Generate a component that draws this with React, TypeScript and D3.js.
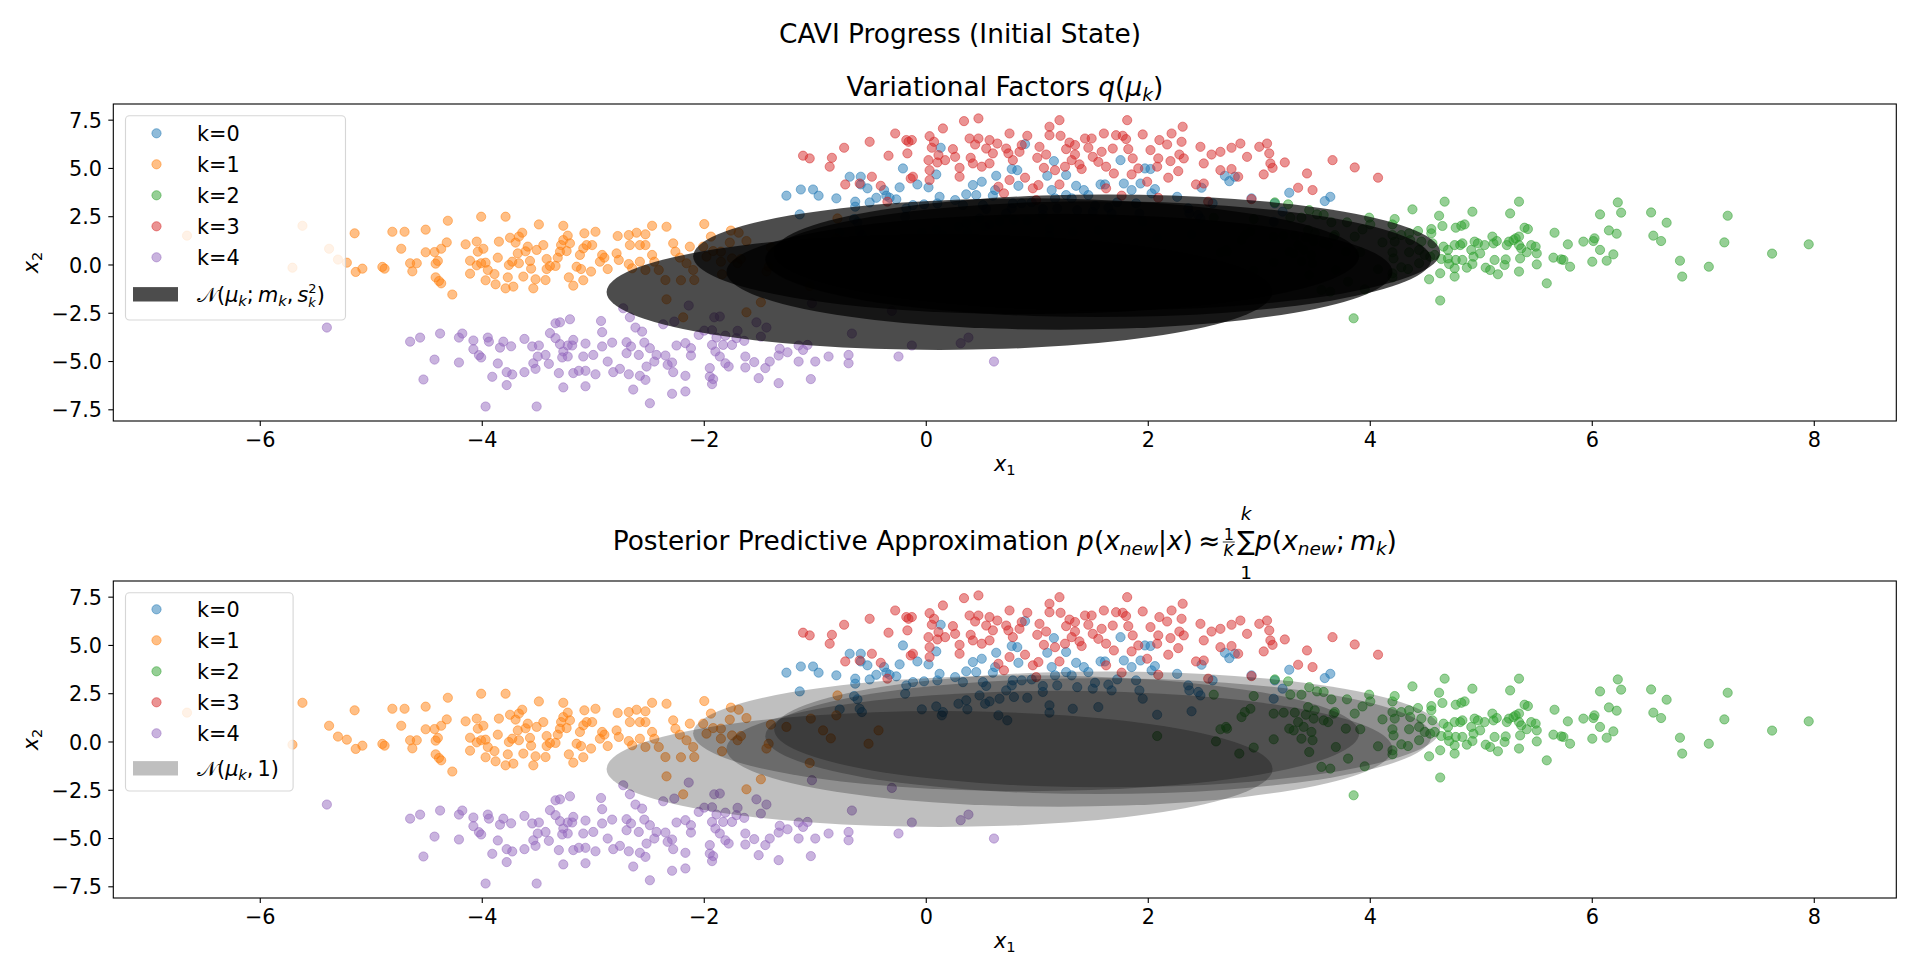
import React, { useLayoutEffect, useRef, useState } from "react";
import * as d3 from "d3";

// ---------------- data ----------------
const clusterLabels = ["k=0", "k=1", "k=2", "k=3", "k=4"];
const clusterColors = ["#1f77b4", "#ff7f0e", "#2ca02c", "#d62728", "#9467bd"];

const k0Points: [number, number][] = [
  [-1.26, 3.59], [-1.14, 2.62], [-1.13, 3.91], [-1.02, 3.91], [-0.97, 3.59], [-0.81, 3.45], [-0.69, 4.57], [-0.64, 3.28],
  [-0.64, 3.02], [-0.65, 2.38], [-0.62, 2.21], [-0.6, 1.72], [-0.58, 1.55], [-0.78, 1.69], [-0.59, 4.57], [-0.59, 4.17],
  [-0.53, 3.97], [-0.51, 3.24], [-0.45, 3.48], [-0.38, 3.88], [-0.36, 3.59], [-0.33, 3.48], [-0.27, 3.4], [-0.24, 4.02],
  [-0.21, 5.0], [-0.19, 2.5], [-0.18, 2.93], [-0.12, 3.1], [-0.08, 4.17], [-0.04, 1.69], [-0.02, 3.14], [0.02, 4.02],
  [0.09, 4.69], [0.09, 1.84], [0.1, 3.19], [0.12, 3.53], [0.14, 1.38], [0.15, 1.55], [0.13, 6.07],
  [0.29, 1.98], [0.36, 2.16], [0.37, 1.69], [0.36, 3.66], [0.33, 3.1], [0.26, 3.36], [0.42, 4.14], [0.45, 3.62],
  [0.5, 4.31], [0.51, 3.1], [0.54, 2.9], [0.48, 2.41], [0.53, 1.98], [0.57, 2.1], [0.6, 3.59], [0.62, 3.88],
  [0.63, 4.62], [0.66, 2.24], [0.65, 1.38], [0.73, 1.12], [0.72, 2.67], [0.77, 2.93], [0.78, 3.19], [0.79, 2.33],
  [0.77, 4.97], [0.82, 4.91], [0.83, 4.1], [0.86, 3.19], [0.89, 6.26], [0.91, 2.29], [0.95, 3.24], [1.05, 2.9],
  [1.05, 2.59], [1.09, 4.62], [1.11, 1.9], [1.11, 1.52], [1.13, 3.88], [1.16, 3.45], [1.15, 5.38], [1.18, 2.93],
  [1.26, 3.62], [1.26, 4.66], [1.31, 3.45], [1.32, 1.72], [1.35, 4.1], [1.36, 2.84], [1.42, 3.88], [1.46, 3.62],
  [1.5, 2.76], [1.52, 3.07], [1.55, 1.81], [1.57, 4.17], [1.61, 4.17], [1.64, 2.97], [1.67, 2.67], [1.72, 3.24],
  [1.75, 5.43], [1.78, 4.22], [1.85, 3.88], [1.89, 3.19], [1.92, 2.67], [1.93, 4.22], [1.95, 2.24], [1.97, 5.0],
  [2.02, 4.97], [2.03, 3.71], [2.06, 3.93], [2.08, 1.41], [2.26, 3.53], [2.36, 2.93], [2.37, 2.67], [2.39, 1.59],
  [2.45, 2.59], [2.47, 2.41], [2.48, 4.0], [2.58, 3.19], [2.69, 4.62], [2.73, 4.34], [2.78, 4.57], [2.93, 3.45],
  [3.13, 2.24], [3.14, 3.19], [3.21, 2.76], [3.27, 3.74], [3.59, 3.31], [3.64, 3.53],
];

const k1Points: [number, number][] = [
  [-6.66, 1.52], [-5.62, 2.03], [-5.71, -0.14], [-5.38, 0.84], [-5.3, 0.28], [-5.22, 0.12], [-5.15, 1.64], [-5.14, -0.36],
  [-5.08, -0.19], [-4.9, -0.1], [-4.88, -0.19], [-4.81, 1.72], [-4.7, 1.72], [-4.73, 0.84], [-4.65, 0.09], [-4.59, 0.09],
  [-4.63, -0.33], [-4.51, 1.83], [-4.51, 0.66], [-4.43, 0.67], [-4.37, 0.84], [-4.32, 1.17], [-4.31, 2.29], [-4.4, 0.21],
  [-4.42, 0.07], [-4.42, -0.64], [-4.39, -0.83], [-4.37, -0.95], [-4.27, -1.53], [-4.15, 1.07], [-4.11, 0.22], [-4.11, -0.45],
  [-4.05, 1.21], [-4.04, 0.69], [-3.99, 0.84], [-4.01, 2.5], [-4.05, -0.02], [-4.01, 0.09], [-3.97, 0.12], [-3.95, -0.26],
  [-3.97, -0.79], [-3.89, -0.47], [-3.88, -1.0], [-3.86, 0.38], [-3.85, 1.21], [-3.79, 2.5], [-3.77, -0.64], [-3.79, -1.21],
  [-3.72, -1.12], [-3.76, 0.0], [-3.75, 1.41], [-3.7, 1.16], [-3.68, 0.6], [-3.67, 1.47], [-3.64, 1.67], [-3.63, -0.6],
  [-3.57, 0.21], [-3.56, -0.19], [-3.54, -1.21], [-3.52, -0.74], [-3.49, 2.1], [-3.59, 0.95], [-3.61, 0.71], [-3.51, 0.78],
  [-3.67, 0.09], [-3.73, 0.17],
  [-3.45, 1.03], [-3.42, 0.31], [-3.42, -0.21], [-3.39, -0.05], [-3.34, -0.05], [-3.43, -0.78], [-3.27, 2.03], [-3.27, 1.29],
  [-3.29, 1.03], [-3.23, 1.52], [-3.21, 1.12], [-3.3, 0.69], [-3.32, 0.38], [-3.24, 0.72], [-3.22, -0.64], [-3.18, -1.07],
  [-3.15, -0.09], [-3.11, -0.21], [-3.12, 0.52], [-3.08, 1.64], [-3.09, 0.86], [-3.06, 1.03], [-3.01, 1.03], [-2.98, 1.72],
  [-3.09, -0.79], [-3.02, -0.34], [-2.94, 0.17], [-2.92, 0.52], [-2.87, -0.21], [-2.9, 0.38], [-2.79, 0.6], [-2.78, 1.5],
  [-2.77, 0.26], [-2.68, 1.55], [-2.61, 1.67], [-2.67, 1.03], [-2.58, 1.03], [-2.53, 1.59], [-2.47, 2.03], [-2.53, 1.03],
  [-2.68, 0.05], [-2.65, -0.17], [-2.58, 0.17], [-2.53, -0.26], [-2.47, 0.52], [-2.45, 0.17], [-2.41, -0.26], [-2.34, 1.98],
  [-2.28, 1.12], [-2.26, 0.69], [-2.22, 0.38], [-2.16, 0.09], [-2.13, 0.95], [-2.1, -0.26], [-2.09, -0.78], [-2.35, -0.78],
  [-2.21, -0.79], [-2.34, -1.78], [-2.19, -2.71], [-2.0, 2.12], [-1.94, 1.47], [-2.01, 0.95], [-1.98, 0.43], [-1.92, 0.72],
  [-1.85, 0.69], [-1.85, 0.17], [-1.84, -0.48], [-1.76, 1.78], [-1.69, 1.67], [-1.77, 1.16], [-1.62, 1.24], [-1.75, 0.34],
  [-1.7, 0.09], [-1.67, 0.31], [-1.62, -2.45], [-1.49, -1.93], [-1.44, -0.34], [-1.42, -0.09], [-1.4, 0.9], [-1.26, 0.78],
  [-1.05, -1.09], [-1.04, 1.21], [-0.93, 0.6], [-0.86, 0.19], [-0.81, 1.38], [-0.8, 2.41], [-0.52, -0.09], [-0.43, 0.6],
];

const k2Points: [number, number][] = [
  [2.08, 0.31], [2.59, 2.45], [2.61, 0.03], [2.65, 0.66], [2.7, 0.78], [2.71, 0.69], [2.82, -0.6], [2.84, 1.29],
  [2.87, 1.55], [2.92, 1.72], [2.95, 2.38], [2.95, -0.29], [3.13, 1.47], [3.13, 0.14], [3.14, 3.24], [3.22, 1.52],
  [3.26, 3.14], [3.28, 2.45], [3.27, 0.69], [3.31, 0.6], [3.32, 1.52], [3.35, 1.03], [3.38, 2.45], [3.4, 0.78],
  [3.38, 0.17], [3.42, 1.41], [3.45, 2.84], [3.44, 1.81], [3.45, -0.52], [3.47, 0.52], [3.48, 0.09], [3.49, 1.21],
  [3.5, 1.64], [3.52, 2.62], [3.56, -1.29], [3.58, 2.59], [3.58, 1.12], [3.62, 1.03], [3.64, -1.38], [3.65, 2.21],
  [3.67, 1.47], [3.69, -0.26], [3.68, 1.55], [3.78, 0.69], [3.79, 2.21], [3.8, -0.86], [3.85, -2.76], [3.86, 1.47],
  [3.99, 2.45], [4.0, 2.1], [3.93, 1.84], [3.91, 0.66], [3.95, -1.26], [4.11, 1.17], [4.07, -0.22], [4.2, 2.1],
  [4.22, 2.38], [4.2, 1.55], [4.22, 1.21], [4.2, 0.66], [4.21, 0.34], [4.2, -0.43], [4.2, -0.64], [4.28, 1.55],
  [4.28, -0.12], [4.34, -0.21], [4.35, 0.66], [4.35, 1.64], [4.36, 1.29], [4.38, 2.88], [4.43, 1.76], [4.44, 0.78],
  [4.44, 0.09], [4.46, 1.21], [4.49, 0.52], [4.53, -0.74], [4.55, 1.86], [4.55, 1.64], [4.56, 1.12], [4.54, 0.43],
  [4.58, 0.52], [4.62, 2.55], [4.63, -0.43], [4.63, -1.84], [4.64, 0.31], [4.65, 2.02], [4.67, 3.28], [4.66, 0.95],
  [4.7, 0.78], [4.71, 0.05], [4.7, 0.34], [4.76, -0.6], [4.77, 1.93], [4.77, 0.26], [4.76, -0.17], [4.76, 1.03],
  [4.81, 1.03], [4.83, 1.12], [4.82, 2.03], [4.85, 2.1], [4.83, 0.26], [4.87, -0.14], [4.91, 0.78], [4.92, 0.05],
  [4.92, 2.76], [4.93, 0.43], [4.94, 1.21], [4.97, 1.12], [4.99, 0.6], [5.03, 1.03], [5.04, -0.14], [5.08, -0.26],
  [5.1, 1.47], [5.11, 1.12], [5.12, 0.26], [5.14, 1.24], [5.15, -0.48], [5.21, 0.0], [5.22, 0.29], [5.23, 1.03],
  [5.26, 2.67], [5.25, 1.21], [5.29, 1.29], [5.31, 1.38], [5.34, 3.28], [5.34, 1.47], [5.34, 1.03], [5.35, 0.34],
  [5.34, -0.34], [5.36, 0.86], [5.39, 1.93], [5.42, 1.86], [5.41, 0.66], [5.45, 1.03], [5.49, 0.95], [5.5, 0.6],
  [5.5, 0.03], [5.59, -0.95], [5.65, 0.38], [5.66, 1.67], [5.72, 0.29], [5.74, 0.26], [5.78, 1.07], [5.8, -0.09],
  [5.92, 1.21], [6.0, 0.17], [6.01, 1.24], [6.02, 1.38], [6.07, 2.62], [6.07, 0.78], [6.13, 0.22], [6.15, 1.79],
  [6.19, 0.55], [6.22, 1.62], [6.23, 3.24], [6.26, 2.71], [6.53, 2.72], [6.55, 1.52], [6.62, 1.24], [6.67, 2.19],
  [6.79, 0.22], [6.81, -0.6], [7.05, -0.09], [7.19, 1.17], [7.22, 2.55], [7.62, 0.59], [7.95, 1.07],
];

const k3Points: [number, number][] = [
  [-1.11, 5.66], [-1.05, 5.52], [-0.87, 5.09], [-0.85, 5.55], [-0.74, 6.07], [-0.73, 4.17], [-0.6, 4.22], [-0.51, 6.38],
  [-0.49, 4.57], [-0.41, 4.1], [-0.35, 3.28], [-0.34, 5.66], [-0.28, 6.81], [-0.18, 6.47], [-0.17, 5.78], [-0.14, 4.48],
  [-0.16, 6.38], [-0.13, 6.47], [-0.12, 4.57], [0.02, 5.43], [0.03, 4.91], [0.03, 4.4], [0.03, 6.67], [0.07, 6.38],
  [0.1, 5.31], [0.11, 5.69], [0.15, 7.07], [0.17, 5.43], [0.05, 6.07],
  [0.34, 7.45], [0.47, 7.59], [0.24, 6.0], [0.26, 5.6], [0.3, 5.03], [0.3, 4.57], [0.4, 5.55], [0.39, 6.55],
  [0.47, 6.55], [0.42, 5.26], [0.44, 6.24], [0.5, 5.09], [0.54, 6.03], [0.57, 6.47], [0.57, 5.26], [0.6, 5.78],
  [0.64, 6.29], [0.65, 4.05], [0.7, 3.71], [0.72, 6.03], [0.74, 5.78], [0.75, 6.81], [0.78, 5.43], [0.75, 4.4],
  [0.84, 5.86], [0.86, 6.21], [0.89, 4.52], [0.91, 6.69], [0.96, 3.97], [0.99, 3.36], [1.01, 4.14], [1.0, 5.55],
  [1.02, 6.12], [1.08, 5.72], [1.06, 5.03], [1.11, 7.16], [1.11, 6.72], [1.16, 4.91], [1.2, 7.5], [1.21, 6.69],
  [1.2, 4.17], [1.25, 5.09], [1.26, 6.0], [1.29, 6.34], [1.31, 5.43], [1.34, 5.72], [1.34, 6.21], [1.38, 5.21],
  [1.4, 4.97], [1.43, 6.55], [1.46, 6.07], [1.49, 6.55], [1.5, 5.6], [1.55, 5.34], [1.58, 5.86], [1.6, 6.81],
  [1.62, 3.97], [1.62, 5.09], [1.68, 6.03], [1.71, 6.72], [1.69, 4.74], [1.76, 3.59], [1.77, 6.69], [1.8, 6.52],
  [1.81, 7.5], [1.82, 6.0], [1.85, 4.69], [1.86, 5.52], [1.91, 5.0], [1.95, 6.76], [1.99, 4.31], [2.02, 5.95],
  [2.09, 5.52], [2.08, 5.09], [2.09, 3.48], [2.1, 6.47], [2.17, 6.24], [2.18, 4.52], [2.2, 5.38], [2.21, 6.81],
  [2.27, 4.86], [2.28, 5.72], [2.3, 6.38], [2.31, 7.16], [2.32, 5.52], [2.43, 4.17], [2.47, 6.12], [2.5, 5.26],
  [2.5, 4.22], [2.54, 3.28], [2.57, 5.72], [2.65, 5.86], [2.65, 4.91], [2.75, 6.07], [2.75, 4.97], [2.81, 4.57],
  [2.83, 6.29], [2.89, 5.6], [2.93, 3.41], [3.0, 6.12], [3.04, 4.69], [3.07, 6.29], [3.09, 5.78], [3.1, 5.26],
  [3.12, 5.03], [3.23, 5.31], [3.35, 4.0], [3.43, 4.74], [3.48, 3.88], [3.66, 5.43], [3.86, 5.05], [4.07, 4.52],
];

const k4Points: [number, number][] = [
  [-5.4, -3.24], [-4.65, -3.97], [-4.56, -3.76], [-4.38, -3.55], [-4.43, -4.9], [-4.53, -5.93], [-4.21, -3.76], [-4.18, -3.55],
  [-4.21, -5.05], [-4.08, -3.91], [-4.08, -4.36], [-4.03, -4.67], [-4.01, -4.79], [-3.95, -3.76], [-3.94, -3.97], [-3.86, -5.1],
  [-3.91, -5.79], [-3.78, -5.55], [-3.73, -5.67], [-3.78, -6.22], [-3.97, -7.33], [-3.84, -4.28], [-3.81, -3.97], [-3.74, -4.21],
  [-3.62, -3.83], [-3.62, -5.55], [-3.55, -4.22], [-3.54, -5.09], [-3.52, -5.38], [-3.5, -4.74], [-3.49, -4.17], [-3.51, -7.33],
  [-3.4, -5.12], [-3.43, -4.66], [-3.39, -3.53], [-3.34, -3.02], [-3.3, -2.97], [-3.21, -2.81], [-3.34, -3.79], [-3.3, -4.1],
  [-3.27, -4.48], [-3.28, -4.79], [-3.31, -5.6], [-3.27, -6.34], [-3.23, -4.17], [-3.23, -4.74], [-3.18, -3.88], [-3.19, -4.17],
  [-3.18, -5.6], [-3.13, -5.48], [-3.09, -4.74], [-3.07, -4.07], [-3.07, -5.48], [-3.07, -6.28], [-3.0, -4.66], [-2.98, -5.66],
  [-2.93, -2.9], [-2.92, -3.48], [-2.92, -4.22], [-2.87, -5.0], [-2.83, -4.02], [-2.82, -5.55], [-2.76, -5.38], [-2.73, -2.24],
  [-2.67, -2.71], [-2.7, -4.0], [-2.7, -4.57], [-2.66, -4.22], [-2.68, -5.66], [-2.64, -6.45], [-2.62, -3.24], [-2.59, -4.66],
  [-2.58, -5.74], [-2.56, -3.45], [-2.54, -4.02], [-2.53, -5.95], [-2.52, -5.26], [-2.49, -4.31], [-2.45, -5.0], [-2.43, -4.66],
  [-2.49, -7.16], [-2.37, -3.07], [-2.35, -4.69], [-2.33, -5.17], [-2.29, -5.05], [-2.28, -5.55], [-2.29, -6.67], [-2.27, -2.93],
  [-2.25, -4.17], [-2.17, -4.05], [-2.17, -5.74], [-2.17, -6.55], [-2.14, -2.1], [-2.12, -4.31], [-2.12, -4.69], [-2.05, -3.62],
  [-2.0, -3.4], [-1.95, -5.34], [-1.95, -5.78], [-1.93, -6.17], [-1.92, -5.91], [-1.91, -2.71], [-1.86, -2.67], [-1.93, -3.38],
  [-1.89, -3.76], [-1.93, -4.14], [-1.9, -4.48], [-1.86, -4.74], [-1.83, -4.14], [-1.81, -3.66], [-1.81, -5.09], [-1.78, -5.26],
  [-1.75, -4.14], [-1.71, -3.79], [-1.7, -3.41], [-1.64, -3.93], [-1.63, -4.74], [-1.63, -5.31], [-1.55, -5.03], [-1.51, -5.86],
  [-1.53, -2.97], [-1.49, -3.71], [-1.44, -3.24], [-1.41, -5.0], [-1.45, -5.34], [-1.33, -4.69], [-1.32, -4.34], [-1.33, -6.12],
  [-1.25, -4.52], [-1.15, -4.17], [-1.15, -5.0], [-1.11, -4.4], [-1.07, -4.14], [-1.04, -5.91], [-1.03, -1.98], [-1.0, -5.0],
  [-0.88, -4.74], [-0.7, -4.66], [-0.7, -5.09], [-0.67, -3.55], [-0.31, -2.38], [-0.25, -4.74], [-0.13, -4.17],
  [0.31, -4.05], [0.38, -3.76], [0.61, -5.0],
];

const clusters = [k0Points, k1Points, k2Points, k3Points, k4Points];

// variational means m_k and std devs s_k (initial state)
const meanX = [0.12, 0.9, 1.2, 1.55, 1.63];
const meanY = [-1.4, 0.45, -0.35, 0.3, 0.65];
const stdDev = [1, 1, 1, 1, 1];
const nSigma = 3;

const xTicks = [-6, -4, -2, 0, 2, 4, 6, 8];
const yTicks = [-7.5, -5, -2.5, 0, 2.5, 5, 7.5];
const xLimits: [number, number] = [-7.324, 8.739];
const yLimits: [number, number] = [-8.08, 8.337];

// ---------------- layout ----------------
const W = 1920;
const H = 977;
const FONT = "'DejaVu Sans', 'Noto Sans', sans-serif";
const AX_L = 113.3;
const AX_R = 1896.3;
const AX_H = 317;
const TICK_FS = 20.8;
const SUB_FS = 14.6;
const TITLE_FS = 26.4;
const MARKER_R = 4.6;

type PanelProps = {
  idx: number;
  top: number;
  alpha: number;
  legendWidth: number;
  legendHeight: number;
  firstRow: number;
  patchRow: number;
  patchLabel: React.ReactNode;
};

function Panel({ idx, top, alpha, legendWidth, legendHeight, firstRow, patchRow, patchLabel }: PanelProps) {
  const x = d3.scaleLinear().domain(xLimits).range([AX_L, AX_R]);
  const y = d3.scaleLinear().domain(yLimits).range([top + AX_H, top]);
  const fmtY = d3.format(".1f");
  const fmtX = d3.format("d");
  const clipId = `axclip${idx}`;
  const bottom = top + AX_H;
  const legX = 125.5;
  const legY = top + 11.7;
  return (
    <g>
      <defs>
        <clipPath id={clipId}>
          <rect x={AX_L} y={top} width={AX_R - AX_L} height={AX_H} />
        </clipPath>
      </defs>
      <g clipPath={`url(#${clipId})`}>
        {clusters.map((pts, k) => (
          <g key={k} fill={clusterColors[k]} fillOpacity={0.5} stroke={clusterColors[k]} strokeOpacity={0.5} strokeWidth={1}>
            {pts.map(([px, py], i) => (
              <circle key={i} cx={x(px)} cy={y(py)} r={MARKER_R} />
            ))}
          </g>
        ))}
        {meanX.map((mx, k) => {
          const my = meanY[k];
          const r = nSigma * stdDev[k];
          return (
            <ellipse
              key={k}
              cx={x(mx)}
              cy={y(my)}
              rx={x(mx + r) - x(mx)}
              ry={y(my) - y(my + r)}
              fill="#000"
              fillOpacity={alpha}
            />
          );
        })}
      </g>
      {/* spines */}
      <rect x={AX_L} y={top} width={AX_R - AX_L} height={AX_H} fill="none" stroke="#000" strokeWidth={1.1} />
      {/* x ticks */}
      {xTicks.map((t) => (
        <g key={`x${t}`}>
          <line x1={x(t)} x2={x(t)} y1={bottom} y2={bottom + 5} stroke="#000" strokeWidth={1.1} />
          <text x={x(t)} y={bottom + 25.7} textAnchor="middle" fontSize={TICK_FS} fontFamily={FONT}>
            {fmtX(t)}
          </text>
        </g>
      ))}
      {/* y ticks */}
      {yTicks.map((t) => (
        <g key={`y${t}`}>
          <line x1={AX_L - 5} x2={AX_L} y1={y(t)} y2={y(t)} stroke="#000" strokeWidth={1.1} />
          <text x={102} y={y(t) + 7.6} textAnchor="end" fontSize={TICK_FS} fontFamily={FONT}>
            {fmtY(t)}
          </text>
        </g>
      ))}
      {/* axis labels */}
      <text x={(AX_L + AX_R) / 2} y={bottom + 49.5} textAnchor="middle" fontSize={TICK_FS} fontFamily={FONT}>
        <tspan fontStyle="italic">x</tspan>
        <tspan fontSize={SUB_FS} dy={4}>1</tspan>
      </text>
      <text
        transform={`translate(37.5, ${top + AX_H / 2}) rotate(-90)`}
        textAnchor="middle"
        fontSize={TICK_FS}
        fontFamily={FONT}
      >
        <tspan fontStyle="italic">x</tspan>
        <tspan fontSize={SUB_FS} dy={4}>2</tspan>
      </text>
      {/* legend */}
      <rect
        x={legX}
        y={legY}
        width={legendWidth}
        height={legendHeight}
        rx={4}
        fill="#fff"
        fillOpacity={0.8}
        stroke="#cccccc"
        strokeOpacity={0.8}
        strokeWidth={1.1}
      />
      {clusterLabels.map((lab, k) => {
        const cy = top + firstRow + k * 31;
        return (
          <g key={lab}>
            <circle cx={156.5} cy={cy} r={MARKER_R} fill={clusterColors[k]} fillOpacity={0.5} stroke={clusterColors[k]} strokeOpacity={0.5} strokeWidth={1} />
            <text x={197} y={cy + 7.5} fontSize={TICK_FS} fontFamily={FONT}>
              {lab}
            </text>
          </g>
        );
      })}
      <rect x={133} y={top + patchRow - 7.2} width={45} height={14.4} fill="#000" fillOpacity={alpha} />
      <text x={197} y={top + patchRow + 7.4} fontSize={TICK_FS} fontFamily={FONT}>
        {patchLabel}
      </text>
    </g>
  );
}

const CAL_FONT = "'DejaVu Sans', 'DejaVu Serif', 'Noto Sans', serif";

export default function App() {
  const titleRef = useRef<SVGTextElement>(null);
  const [pos, setPos] = useState<{ sum: number; frac: number } | null>(null);

  useLayoutEffect(() => {
    const el = titleRef.current;
    if (!el) return;
    const s = el.textContent || "";
    const iSum = s.indexOf("\u2211");
    const iFrac = s.indexOf("\u2003");
    try {
      const es = el.getExtentOfChar(iSum);
      const ef = el.getExtentOfChar(iFrac);
      setPos({ sum: es.x + es.width / 2, frac: ef.x + ef.width / 2 });
    } catch (e) {
      setPos({ sum: 1252, frac: 1231 });
    }
  }, []);

  const base2 = 550;

  return (
    <svg
      width={W}
      height={H}
      viewBox={`0 0 ${W} ${H}`}
      style={{ position: "absolute", left: 0, top: 0, display: "block" }}
      fontFamily={FONT}
    >
      <rect x={0} y={0} width={W} height={H} fill="#fff" />
      <text x={960} y={42.5} textAnchor="middle" fontSize={TITLE_FS} fontFamily={FONT}>
        CAVI Progress (Initial State)
      </text>

      {/* top title */}
      <text x={(AX_L + AX_R) / 2} y={95.5} textAnchor="middle" fontSize={TITLE_FS} fontFamily={FONT}>
        {"Variational Factors "}
        <tspan fontStyle="italic">q</tspan>
        <tspan>(</tspan>
        <tspan fontStyle="italic">μ</tspan>
        <tspan fontStyle="italic" fontSize={18.5} dy={5}>k</tspan>
        <tspan dy={-5}>)</tspan>
      </text>

      <Panel
        idx={0}
        top={104}
        alpha={0.7}
        legendWidth={220}
        legendHeight={204.3}
        firstRow={29.3}
        patchRow={190.3}
        patchLabel={
          <>
            <tspan fontFamily={CAL_FONT}>{"\u{1D4A9}"}</tspan>
            <tspan>(</tspan>
            <tspan fontStyle="italic">μ</tspan>
            <tspan fontStyle="italic" fontSize={SUB_FS} dy={4}>k</tspan>
            <tspan dy={-4}>;{"\u2009"}</tspan>
            <tspan fontStyle="italic">m</tspan>
            <tspan fontStyle="italic" fontSize={SUB_FS} dy={4}>k</tspan>
            <tspan dy={-4}>,{"\u2009"}</tspan>
            <tspan fontStyle="italic">s</tspan>
            <tspan fontSize={13} dy={-9}>2</tspan>
            <tspan fontStyle="italic" fontSize={13} dx={-8.3} dy={14}>k</tspan>
            <tspan dx={1} dy={-5}>)</tspan>
          </>
        }
      />

      {/* bottom title */}
      <text ref={titleRef} x={(AX_L + AX_R) / 2} y={base2} textAnchor="middle" fontSize={TITLE_FS} fontFamily={FONT}>
        {"Posterior Predictive Approximation "}
        <tspan fontStyle="italic">p</tspan>
        <tspan>(</tspan>
        <tspan fontStyle="italic">x</tspan>
        <tspan fontStyle="italic" fontSize={18.5} dy={5}>new</tspan>
        <tspan dy={-5}>|</tspan>
        <tspan fontStyle="italic">x</tspan>
        <tspan>{")\u2009\u2248"}</tspan>
        <tspan fontSize={17}>{"\u2003"}</tspan>
        <tspan>{"\u2211"}</tspan>
        <tspan fontStyle="italic">p</tspan>
        <tspan>(</tspan>
        <tspan fontStyle="italic">x</tspan>
        <tspan fontStyle="italic" fontSize={18.5} dy={5}>new</tspan>
        <tspan dy={-5}>{";\u2009"}</tspan>
        <tspan fontStyle="italic">m</tspan>
        <tspan fontStyle="italic" fontSize={18.5} dy={5}>k</tspan>
        <tspan dy={-5}>)</tspan>
      </text>
      {pos && (
        <g fontFamily={FONT}>
          <text x={pos.frac} y={base2 - 10.5} textAnchor="middle" fontSize={16}>1</text>
          <line x1={pos.frac - 6} x2={pos.frac + 6} y1={base2 - 8} y2={base2 - 8} stroke="#000" strokeWidth={0.8} />
          <text x={pos.frac} y={base2 + 6} textAnchor="middle" fontSize={16} fontStyle="italic">K</text>
          <text x={pos.sum} y={base2 - 30} textAnchor="middle" fontSize={18.5} fontStyle="italic">k</text>
          <text x={pos.sum} y={base2 + 28.5} textAnchor="middle" fontSize={18.5}>1</text>
        </g>
      )}

      <Panel
        idx={1}
        top={581}
        alpha={0.25}
        legendWidth={167.6}
        legendHeight={198.3}
        firstRow={28.3}
        patchRow={187.3}
        patchLabel={
          <>
            <tspan fontFamily={CAL_FONT}>{"\u{1D4A9}"}</tspan>
            <tspan>(</tspan>
            <tspan fontStyle="italic">μ</tspan>
            <tspan fontStyle="italic" fontSize={SUB_FS} dy={4}>k</tspan>
            <tspan dy={-4}>,{"\u2009"}1)</tspan>
          </>
        }
      />
    </svg>
  );
}
